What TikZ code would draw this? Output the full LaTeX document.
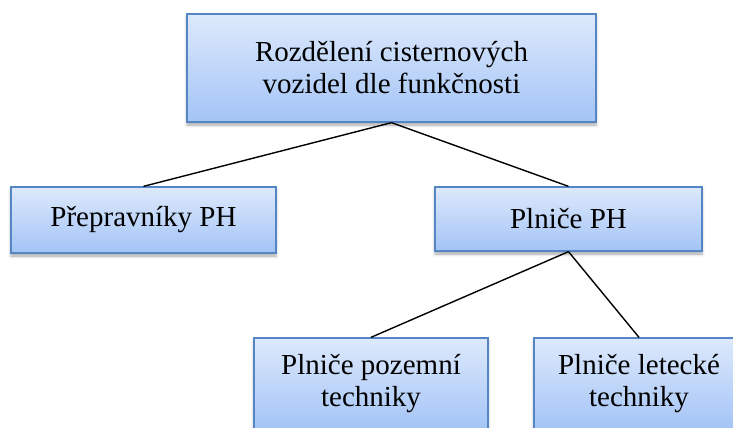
\documentclass[tikz,border=0pt]{standalone}
\usepackage{fontspec}
\setmainfont{Liberation Serif}
\usetikzlibrary{shadows.blur}

\definecolor{boxtop}{RGB}{221,233,252}
\definecolor{boxbottom}{RGB}{163,196,246}
\definecolor{boxline}{RGB}{84,133,196}

\begin{document}
\begin{tikzpicture}[x=1pt,y=-1pt,
  my box/.style={
    draw=boxline, line width=1.3pt,
    top color=boxtop, bottom color=boxbottom,
    blur shadow={shadow xshift=0pt, shadow yshift=-3pt,
      shadow blur radius=3pt, shadow opacity=35},
    inner sep=0pt, align=center,
    font=\fontsize{29}{32}\selectfont,
  },
  my line/.style={line width=1.4pt}]
  \useasboundingbox (0,0) rectangle (733,428);
  \node[my box, minimum width=409pt, minimum height=108pt] (R) at (391.5,68)
    {Rozdělení cisternových\\vozidel dle funkčnosti};
  \node[my box, minimum width=265pt, minimum height=66pt] (P) at (143.5,220)
    {Přepravníky PH};
  \node[my box, minimum width=267pt, minimum height=64pt] (N) at (568.5,219)
    {Plniče PH};
  \node[my box, minimum width=234pt, minimum height=92pt] (Z) at (371,384)
    {Plniče pozemní\\techniky};
  \node[my box, minimum width=210pt, minimum height=92pt] (L) at (639,384)
    {Plniče letecké\\techniky};
  \draw[my line] (R.south) -- (P.north);
  \draw[my line] (R.south) -- (N.north);
  \draw[my line] (N.south) -- (Z.north);
  \draw[my line] (N.south) -- (L.north);
\end{tikzpicture}
\end{document}
